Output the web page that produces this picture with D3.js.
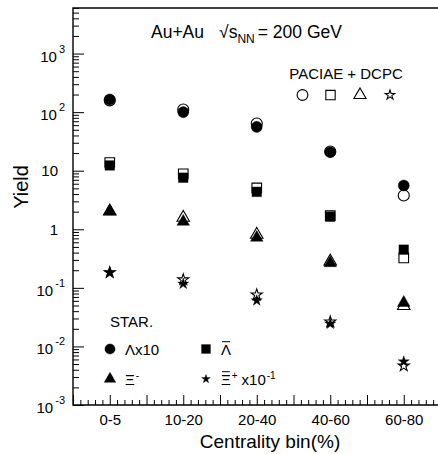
<!DOCTYPE html>
<html>
<head>
<meta charset="utf-8">
<script src="https://cdn.jsdelivr.net/npm/d3@7"></script>
<style>
  body { margin: 0; background: #fff; }
  svg { display: block; }
  text { font-family: "Liberation Sans", Arial, Helvetica, sans-serif; fill: #000; }
</style>
</head>
<body>
<div id="chart"></div>
<script>
var width = 438, height = 454

// centrality bins
var categories = ['0-5', '10-20', '20-40', '40-60', '60-80']

// STAR data (filled symbols)
var starLambda = [165, 100, 56, 20.7, 5.6]            // Λ x10
var starAntiLambda = [12.3, 7.6, 4.36, 1.64, 0.449]
var starXi = [2.03, 1.35, 0.72, 0.265, 0.0556]
var starAntiXi = [0.183, 0.117, 0.0608, 0.0243, 0.0055] // x10^-1

// PACIAE + DCPC (open symbols)
var paciaeLambda = [159, 111, 64, 21.3, 3.77]
var paciaeAntiLambda = [13.8, 8.85, 5.09, 1.71, 0.324]
var paciaeXi = [2.03, 1.58, 0.81, 0.283, 0.0493]
var paciaeAntiXi = [0.183, 0.138, 0.0762, 0.0263, 0.00465]

var yExponents = [-3, -2, -1, 0, 1, 2, 3]

// plot frame (window.top is reserved, so no "top" here)
var pl = 73, pt = 8, pb = 405, pr = 440.5

var x = d3.scaleLinear().domain([0.5, 5.5]).range([pl, pr])
var y = d3.scaleLog().domain([1e-3, 6000]).range([pb, pt])

var shapes = {
  circle: {type: d3.symbolCircle, size: 96},
  square: {type: d3.symbolSquare, size: 92},
  triangle: {type: d3.symbolTriangle, size: 68},
  star: {type: d3.symbolStar, size: 38}
}

var series = [
  {values: paciaeLambda, shape: 'circle', filled: false},
  {values: paciaeAntiLambda, shape: 'square', filled: false},
  {values: paciaeXi, shape: 'triangle', filled: false},
  {values: paciaeAntiXi, shape: 'star', filled: false},
  {values: starLambda, shape: 'circle', filled: true},
  {values: starAntiLambda, shape: 'square', filled: true},
  {values: starXi, shape: 'triangle', filled: true},
  {values: starAntiXi, shape: 'star', filled: true}
]

var svg = d3.select('#chart').append('svg')
    .attr('width', width).attr('height', height)

function marker(sel, shape, filled, scale){
  var s = shapes[shape]
  return sel.append('path')
    .attr('d', d3.symbol().type(s.type).size(s.size * (scale || 1))())
    .attr('fill', filled ? '#000' : '#fff')
    .attr('stroke', '#000')
    .attr('stroke-width', filled ? 0.4 : 1.1)
}

// text made of pieces: {t, size, dy, bar, gap}
function rich(sel, px, py, parts, anchor){
  var g = sel.append('g')
  var cx = 0
  parts.forEach(function(p){
    cx += p.gap || 0
    var t = g.append('text')
      .attr('x', cx).attr('y', p.dy || 0)
      .attr('font-size', p.size)
      .text(p.t)
    var w = t.node().getComputedTextLength()
    if (p.bar){
      var by = (p.dy || 0) - p.size * 0.72 - 2.5
      g.append('line')
        .attr('x1', cx + 1).attr('x2', cx + w - 1)
        .attr('y1', by).attr('y2', by)
        .attr('stroke', '#000').attr('stroke-width', 1)
    }
    cx += w
  })
  var shift = anchor == 'end' ? -cx : anchor == 'middle' ? -cx / 2 : 0
  g.attr('transform', 'translate(' + (px + shift) + ',' + py + ')')
  return g
}

// ---- axes ----
var yMajor = yExponents.map(function(e){ return Math.pow(10, e) })
var yMinor = []
yExponents.forEach(function(e){
  d3.range(2, 10).forEach(function(k){
    var v = k * Math.pow(10, e)
    if (v <= 6000) yMinor.push(v)
  })
})

var xMajor = d3.range(1, 12).map(function(i){ return i / 2 })
var xMinor = d3.range(5, 56).filter(function(i){ return i % 5 }).map(function(i){ return i / 10 })

function ticks(axis){
  return function(g){
    g.call(axis)
    g.select('.domain').remove()
    g.selectAll('.tick line').attr('stroke', '#000').attr('stroke-width', 1)
  }
}

svg.append('g').attr('transform', 'translate(' + pl + ',0)')
  .call(ticks(d3.axisLeft(y).tickValues(yMajor).tickSize(-11).tickFormat('')))
svg.append('g').attr('transform', 'translate(' + pl + ',0)')
  .call(ticks(d3.axisLeft(y).tickValues(yMinor).tickSize(-6).tickFormat('')))

var xAxisG = svg.append('g').attr('transform', 'translate(0,' + pb + ')')
  .call(ticks(d3.axisBottom(x).tickValues(xMajor).tickSize(-10).tickPadding(9)
    .tickFormat(function(d){ return Number.isInteger(d) ? categories[d - 1] : '' })))
xAxisG.selectAll('.tick text')
  .attr('font-size', 15).attr('font-family', null).attr('fill', '#000')
svg.append('g').attr('transform', 'translate(0,' + pb + ')')
  .call(ticks(d3.axisBottom(x).tickValues(xMinor).tickSize(-5).tickFormat('')))

// frame
svg.append('path')
  .attr('d', 'M' + pr + ',' + pt + 'H' + pl + 'V' + pb + 'H' + pr)
  .attr('fill', 'none').attr('stroke', '#000').attr('stroke-width', 1.4)

// y tick labels
yExponents.forEach(function(e){
  var ty = y(Math.pow(10, e))
  if (e == 0) rich(svg, 58, ty + 5.5, [{t: '1', size: 15}], 'end')
  else if (e == 1) rich(svg, 58, ty + 5.5, [{t: '10', size: 15}], 'end')
  else rich(svg, 65, ty + 8, [{t: '10', size: 15}, {t: String(e), size: 11, dy: -9, gap: 2}], 'end')
})

// axis titles
svg.append('text')
  .attr('transform', 'translate(28,187) rotate(-90)')
  .attr('text-anchor', 'middle').attr('font-size', 20)
  .text('Yield')
svg.append('text')
  .attr('x', 270).attr('y', 448)
  .attr('text-anchor', 'middle').attr('font-size', 19)
  .text('Centrality bin(%)')

// ---- data ----
series.forEach(function(s){
  var g = svg.append('g')
  s.values.forEach(function(v, i){
    marker(g, s.shape, s.filled)
      .attr('transform', 'translate(' + x(i + 1) + ',' + y(v) + ')')
  })
})

// ---- title & legends ----
rich(svg, 151, 38, [
  {t: 'Au+Au', size: 17.5},
  {t: '\u221As', size: 17.5, gap: 15},
  {t: 'NN', size: 12, dy: 5},
  {t: '= 200 GeV', size: 17.5, gap: 3}
])

rich(svg, 346, 79, [{t: 'PACIAE + DCPC', size: 15}], 'middle')
;['circle', 'square', 'triangle', 'star'].forEach(function(sh, i){
  marker(svg, sh, false, sh == 'star' ? 0.75 : 0.95)
    .attr('transform', 'translate(' + [302.5, 330.5, 360, 390][i] + ',95)')
})

rich(svg, 110, 327, [{t: 'STAR.', size: 15}])
var legendRows = [
  {shape: 'circle', lx: 110, ly: 349, parts: [{t: '\u039Bx10', size: 15}]},
  {shape: 'square', lx: 206, ly: 349, parts: [{t: '\u039B', size: 15, bar: true}]},
  {shape: 'triangle', lx: 110, ly: 379, parts: [{t: '\u039E', size: 15}, {t: '-', size: 10, dy: -6, gap: 1}]},
  {shape: 'star', lx: 206, ly: 379, parts: [
    {t: '\u039E', size: 15, bar: true}, {t: '+', size: 10, dy: -6, gap: 1},
    {t: 'x10', size: 15, gap: 4}, {t: '-1', size: 10, dy: -6, gap: 1}]}
]
legendRows.forEach(function(d){
  marker(svg, d.shape, true, d.shape == 'star' ? 0.6 : 0.85)
    .attr('transform', 'translate(' + d.lx + ',' + d.ly + ')')
  rich(svg, d.lx + 15, d.ly + 6, d.parts)
})
</script>
</body>
</html>
